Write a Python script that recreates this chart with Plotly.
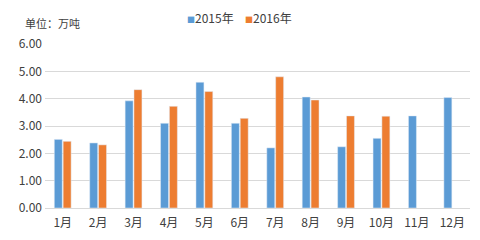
import plotly.graph_objects as go

months = ["1月", "2月", "3月", "4月", "5月", "6月", "7月", "8月", "9月", "10月", "11月", "12月"]
y2015 = [2.51, 2.38, 3.92, 3.10, 4.60, 3.10, 2.20, 4.06, 2.24, 2.55, 3.37, 4.04]
y2016 = [2.44, 2.31, 4.33, 3.72, 4.26, 3.28, 4.80, 3.95, 3.37, 3.36, None, None]
yticks = [0, 1, 2, 3, 4, 5, 6]
colors = ["#5B9BD5", "#ED7D31"]
names = ["2015年", "2016年"]

font = "Noto Sans CJK SC, Microsoft YaHei, sans-serif"
fig = go.Figure()
fig.add_bar(x=months, y=y2015, name=names[0], marker_color=colors[0])
fig.add_bar(x=months, y=y2016, name=names[1], marker_color=colors[1])

ann = [dict(text="单位：万吨", xref="paper", yref="paper", x=-0.052, y=1.065,
            xanchor="left", yanchor="bottom", showarrow=False,
            font=dict(size=11, color="#404040"))]
for i, (n, c) in enumerate(zip(names, colors)):
    ann.append(dict(text=f"<span style='color:{c};font-size:8px'>■</span>{n}",
                    xref="paper", yref="paper", x=0.33 + i * 0.135, y=1.10,
                    xanchor="left", yanchor="bottom", showarrow=False,
                    font=dict(size=12, color="#404040")))

fig.update_layout(
    width=480, height=240,
    margin=dict(l=45, r=10, t=44, b=32),
    paper_bgcolor="white", plot_bgcolor="white",
    barmode="group", bargap=0.5, bargroupgap=0.1,
    font=dict(family=font, size=12, color="#404040"),
    showlegend=False,
    annotations=ann,
)
fig.update_xaxes(showline=True, linecolor="#D9D9D9", ticks="", ticklabelstandoff=4,
                 tickfont=dict(size=12, color="#404040"))
fig.update_yaxes(range=[0, 6], tickvals=yticks, tickformat=".2f", showgrid=True, gridcolor="#D9D9D9",
                 zeroline=False, ticks="", ticklabelstandoff=2, tickfont=dict(size=12, color="#404040"))
fig.write_html("out.html")
